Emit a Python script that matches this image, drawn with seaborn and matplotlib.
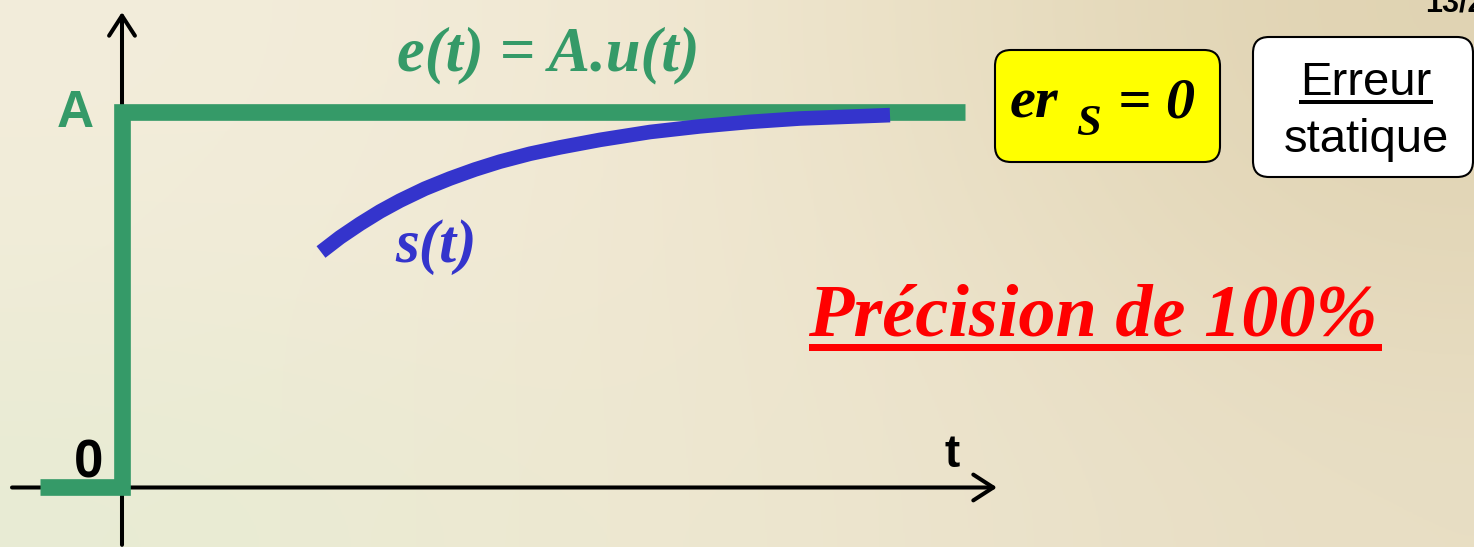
import matplotlib
matplotlib.use("Agg")
import matplotlib.pyplot as plt
import seaborn as sns
import numpy as np
import pandas as pd
from matplotlib.patches import FancyBboxPatch, Rectangle

sns.set_theme(style="white")
plt.rcParams['font.family'] = ['Liberation Sans', 'DejaVu Sans']

# input step e(t) = A.u(t), amplitude A = 1
step_t = [-0.82, 0.0, 0.0, 8.43]
step_y = [0.0, 0.0, 1.0, 1.0]

# response s(t)
resp_t = [1.99, 2.18, 2.38, 2.58, 2.78, 3.03, 3.28, 3.53, 3.78, 4.08, 4.38, 4.78,
          5.28, 5.78, 6.28, 6.78, 7.28, 7.68]
resp_y = [0.628, 0.667, 0.703, 0.736, 0.765, 0.797, 0.824, 0.848, 0.869, 0.890, 0.907, 0.927,
          0.948, 0.963, 0.975, 0.984, 0.989, 0.993]

GREEN = "#359a68"
BLUE = "#3434cc"
RED = "#ff0000"

W, H = 1474, 547
fig = plt.figure(figsize=(W / 100, H / 100), dpi=100)

# background gradient
ax_bg = fig.add_axes([0, 0, 1, 1], zorder=0)
bg = np.array([
    [(243, 237, 219), (242, 234, 214), (235, 225, 198), (224, 211, 178)],
    [(240, 236, 216), (241, 233, 212), (236, 227, 203), (228, 216, 186)],
    [(232, 236, 212), (238, 233, 210), (236, 228, 205), (232, 222, 196)],
]) / 255.0
ax_bg.imshow(bg, aspect="auto", interpolation="bicubic", extent=(0, 1, 0, 1))
ax_bg.axis("off")

# data axes
ax = fig.add_axes([0, 0, 1, 1], zorder=1)
ax.patch.set_alpha(0)
ax.set_xlim(-1.22, 13.52)
ax.set_ylim(-0.1587, 1.3)
ax.axis("off")

# coordinate axes with open arrow heads
arrow = dict(arrowstyle="->,head_length=0.48,head_width=0.31", lw=2.9,
             color="black", shrinkA=0, shrinkB=0, mutation_scale=30)
ax.annotate("", xy=(8.75, 0), xytext=(-1.10, 0), arrowprops=arrow, zorder=1)
ax.annotate("", xy=(0, 1.268), xytext=(0, -0.153), arrowprops=arrow, zorder=1)

step_df = pd.DataFrame({"t": step_t, "y": step_y})
resp_df = pd.DataFrame({"t": resp_t, "y": resp_y})
sns.lineplot(data=step_df, x="t", y="y", ax=ax, estimator=None, sort=False,
             color=GREEN, lw=12, solid_capstyle="butt", solid_joinstyle="miter", zorder=3)
sns.lineplot(data=resp_df, x="t", y="y", ax=ax, estimator=None, sort=False,
             color=BLUE, lw=10.5, solid_capstyle="butt", solid_joinstyle="round", zorder=4)

# overlay in pixel units for labels and boxes
ov = fig.add_axes([0, 0, 1, 1], zorder=2)
ov.patch.set_alpha(0)
ov.set_xlim(0, W)
ov.set_ylim(H, 0)
ov.axis("off")

serif = dict(family="Liberation Serif", weight="bold", style="italic")
sans = dict(family="Liberation Sans")

ov.text(397, 70, "e(t) = A.u(t)", color=GREEN, fontsize=45, va="baseline", ha="left", **serif)
ov.text(395, 262, "s(t)", color=BLUE, fontsize=44, va="baseline", ha="left", **serif)
ov.text(75, 127, "A", color=GREEN, fontsize=37, weight="bold", va="baseline", ha="center", **sans)
ov.text(89, 477, "0", color="black", fontsize=38, weight="bold", va="baseline", ha="center", **sans)
ov.text(952, 467, "t", color="black", fontsize=33, weight="bold", va="baseline", ha="center", **sans)
ov.text(1425, 12, "13/2", color="black", fontsize=22, weight="bold", va="baseline", ha="left", **sans)

ov.text(808, 335, "Précision de 100%", color=RED, fontsize=53.5, va="baseline", ha="left", **serif)
ov.add_patch(Rectangle((809, 344), 573, 7, color=RED, lw=0))

# yellow box: static error
ov.add_patch(FancyBboxPatch((995, 50), 225, 112, boxstyle="round,pad=0,rounding_size=16",
                            facecolor="#ffff00", edgecolor="black", lw=1.5))
ov.text(1010, 118, "er", color="black", fontsize=42, va="baseline", ha="left", **serif)
ov.text(1076, 135, "S", color="black", fontsize=32, va="baseline", ha="left", **serif)
ov.text(1118, 118, "= 0", color="black", fontsize=42, va="baseline", ha="left", **serif)

# white box: legend text
ov.add_patch(FancyBboxPatch((1253, 37), 220, 140, boxstyle="round,pad=0,rounding_size=16",
                            facecolor="white", edgecolor="black", lw=1.5))
ov.text(1366, 95, "Erreur", color="black", fontsize=34, va="baseline", ha="center", **sans)
ov.add_patch(Rectangle((1299, 100), 134, 4, color="black", lw=0))
ov.text(1366, 152, "statique", color="black", fontsize=34, va="baseline", ha="center", **sans)

fig.savefig("out.png", dpi=100)
